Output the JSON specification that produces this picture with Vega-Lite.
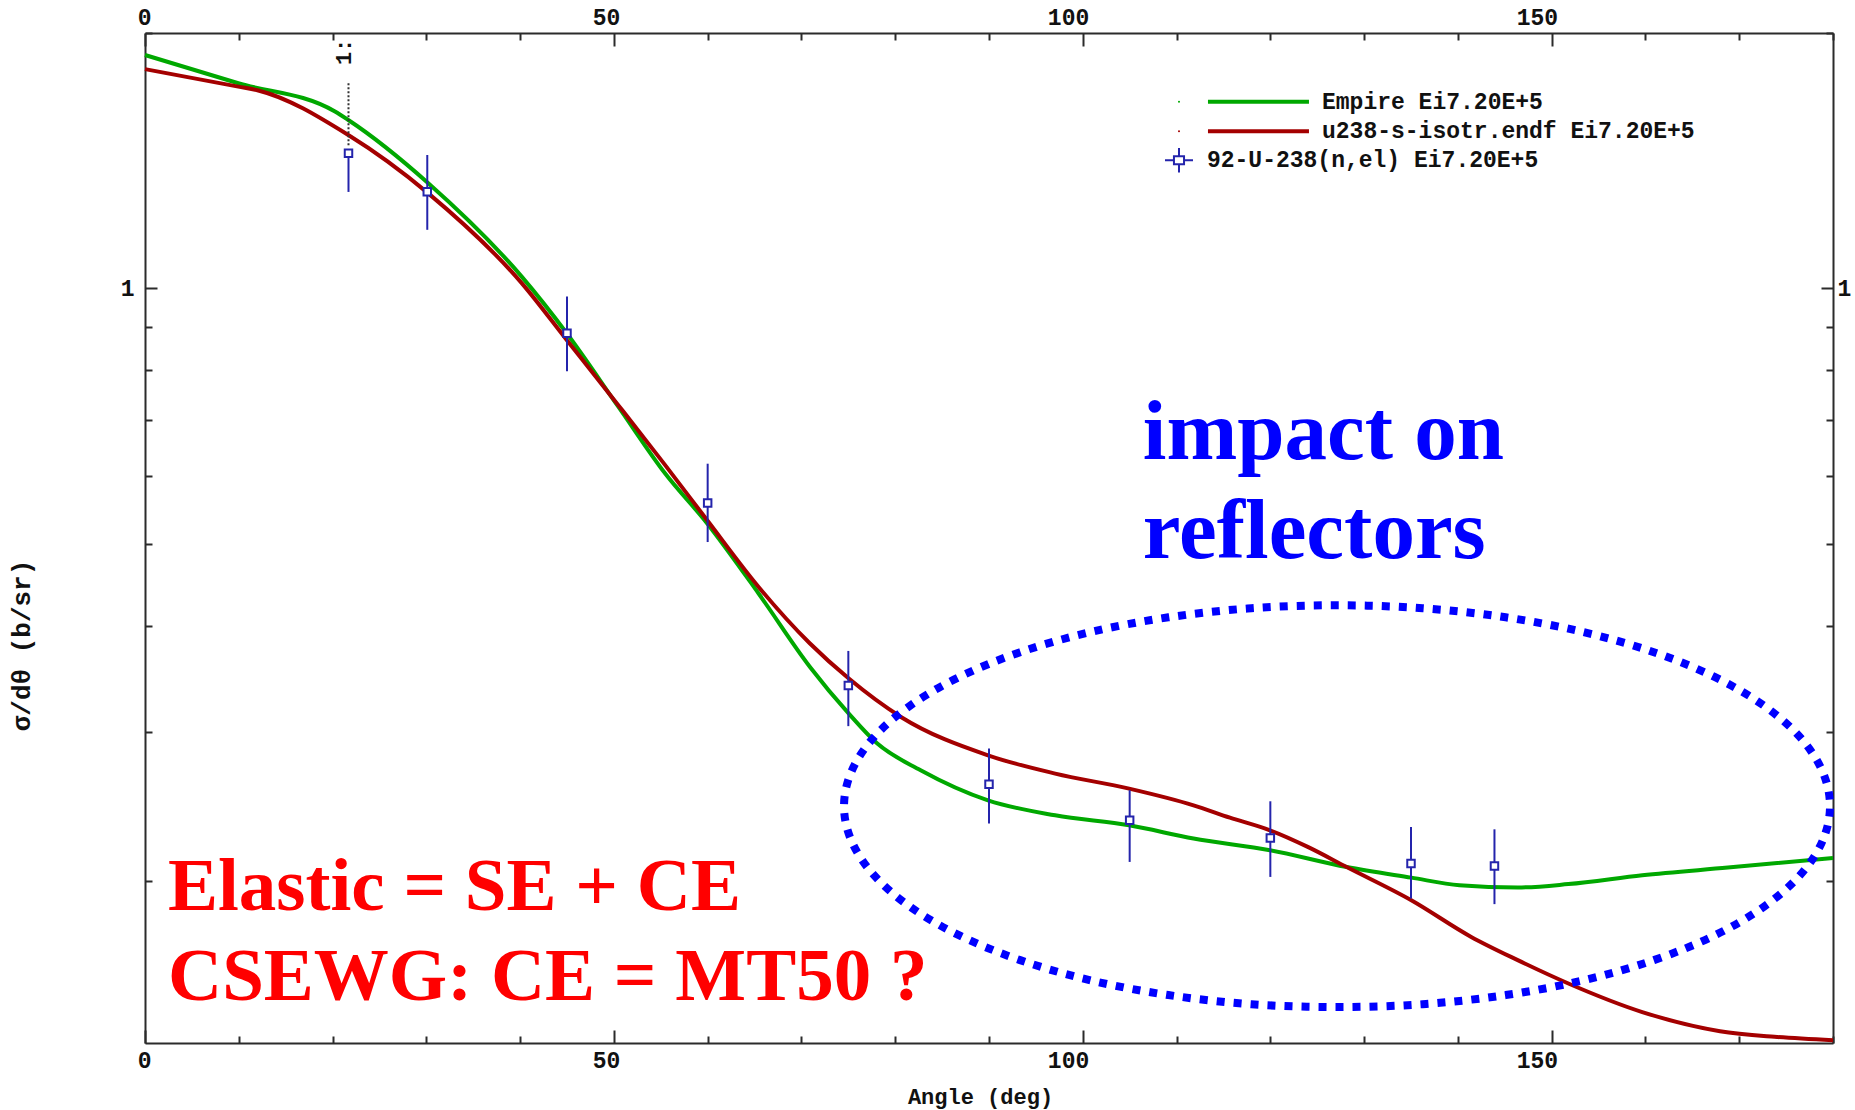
{
  "$schema": "https://vega.github.io/schema/vega-lite/v6.json",
  "width": 1688,
  "height": 1010,
  "autosize": {"type": "none"},
  "padding": {"left": 145, "top": 33, "right": 22, "bottom": 67},
  "background": "white",
  "config": {
    "view": {"stroke": null},
    "axis": {
      "grid": false,
      "domainColor": "#2b2b2b",
      "domainWidth": 2,
      "tickColor": "#2b2b2b",
      "tickWidth": 2,
      "labelFont": "Liberation Mono",
      "labelFontWeight": "bold",
      "labelFontSize": 23,
      "labelColor": "#111111",
      "labelOverlap": false,
      "labelFlush": false,
      "titleFont": "Liberation Mono",
      "titleFontWeight": "bold",
      "titleFontSize": 22,
      "titleColor": "#111111"
    }
  },
  "datasets": {
    "curves": [
      {"series": "Empire Ei7.20E+5", "angle": 0, "value": 1.884},
      {"series": "Empire Ei7.20E+5", "angle": 9.95, "value": 1.745},
      {"series": "Empire Ei7.20E+5", "angle": 20.26, "value": 1.616},
      {"series": "Empire Ei7.20E+5", "angle": 21.68, "value": 1.579},
      {"series": "Empire Ei7.20E+5", "angle": 30.21, "value": 1.33},
      {"series": "Empire Ei7.20E+5", "angle": 40.17, "value": 1.032},
      {"series": "Empire Ei7.20E+5", "angle": 44.97, "value": 0.885},
      {"series": "Empire Ei7.20E+5", "angle": 50.47, "value": 0.725},
      {"series": "Empire Ei7.20E+5", "angle": 55.45, "value": 0.605},
      {"series": "Empire Ei7.20E+5", "angle": 59.95, "value": 0.528},
      {"series": "Empire Ei7.20E+5", "angle": 65.43, "value": 0.4365},
      {"series": "Empire Ei7.20E+5", "angle": 70.91, "value": 0.3576},
      {"series": "Empire Ei7.20E+5", "angle": 75.05, "value": 0.315},
      {"series": "Empire Ei7.20E+5", "angle": 78.09, "value": 0.2904},
      {"series": "Empire Ei7.20E+5", "angle": 82.71, "value": 0.2701},
      {"series": "Empire Ei7.20E+5", "angle": 89.89, "value": 0.2489},
      {"series": "Empire Ei7.20E+5", "angle": 97.06, "value": 0.239},
      {"series": "Empire Ei7.20E+5", "angle": 104.94, "value": 0.2326},
      {"series": "Empire Ei7.20E+5", "angle": 111.81, "value": 0.2244},
      {"series": "Empire Ei7.20E+5", "angle": 119.96, "value": 0.2174},
      {"series": "Empire Ei7.20E+5", "angle": 128.14, "value": 0.2077},
      {"series": "Empire Ei7.20E+5", "angle": 135.03, "value": 0.2018},
      {"series": "Empire Ei7.20E+5", "angle": 140.17, "value": 0.1977},
      {"series": "Empire Ei7.20E+5", "angle": 146.38, "value": 0.1965},
      {"series": "Empire Ei7.20E+5", "angle": 151.78, "value": 0.1983},
      {"series": "Empire Ei7.20E+5", "angle": 159.66, "value": 0.2031},
      {"series": "Empire Ei7.20E+5", "angle": 168.79, "value": 0.2074},
      {"series": "Empire Ei7.20E+5", "angle": 180, "value": 0.2129},
      {"series": "u238-s-isotr.endf Ei7.20E+5", "angle": 0, "value": 1.813},
      {"series": "u238-s-isotr.endf Ei7.20E+5", "angle": 9.95, "value": 1.729},
      {"series": "u238-s-isotr.endf Ei7.20E+5", "angle": 12.08, "value": 1.711},
      {"series": "u238-s-isotr.endf Ei7.20E+5", "angle": 21.68, "value": 1.516},
      {"series": "u238-s-isotr.endf Ei7.20E+5", "angle": 30.21, "value": 1.294},
      {"series": "u238-s-isotr.endf Ei7.20E+5", "angle": 40.17, "value": 1.014},
      {"series": "u238-s-isotr.endf Ei7.20E+5", "angle": 44.97, "value": 0.869},
      {"series": "u238-s-isotr.endf Ei7.20E+5", "angle": 50.47, "value": 0.728},
      {"series": "u238-s-isotr.endf Ei7.20E+5", "angle": 55.45, "value": 0.619},
      {"series": "u238-s-isotr.endf Ei7.20E+5", "angle": 59.95, "value": 0.5326},
      {"series": "u238-s-isotr.endf Ei7.20E+5", "angle": 65.43, "value": 0.4444},
      {"series": "u238-s-isotr.endf Ei7.20E+5", "angle": 70.91, "value": 0.3811},
      {"series": "u238-s-isotr.endf Ei7.20E+5", "angle": 75.05, "value": 0.3465},
      {"series": "u238-s-isotr.endf Ei7.20E+5", "angle": 80.61, "value": 0.3122},
      {"series": "u238-s-isotr.endf Ei7.20E+5", "angle": 89.89, "value": 0.2813},
      {"series": "u238-s-isotr.endf Ei7.20E+5", "angle": 97.06, "value": 0.2677},
      {"series": "u238-s-isotr.endf Ei7.20E+5", "angle": 104.94, "value": 0.257},
      {"series": "u238-s-isotr.endf Ei7.20E+5", "angle": 111.81, "value": 0.2456},
      {"series": "u238-s-isotr.endf Ei7.20E+5", "angle": 115.69, "value": 0.2375},
      {"series": "u238-s-isotr.endf Ei7.20E+5", "angle": 119.96, "value": 0.2295},
      {"series": "u238-s-isotr.endf Ei7.20E+5", "angle": 123.99, "value": 0.2194},
      {"series": "u238-s-isotr.endf Ei7.20E+5", "angle": 128.14, "value": 0.2077},
      {"series": "u238-s-isotr.endf Ei7.20E+5", "angle": 135.03, "value": 0.1898},
      {"series": "u238-s-isotr.endf Ei7.20E+5", "angle": 141.42, "value": 0.1718},
      {"series": "u238-s-isotr.endf Ei7.20E+5", "angle": 146.38, "value": 0.1613},
      {"series": "u238-s-isotr.endf Ei7.20E+5", "angle": 151.78, "value": 0.1514},
      {"series": "u238-s-isotr.endf Ei7.20E+5", "angle": 159.66, "value": 0.1401},
      {"series": "u238-s-isotr.endf Ei7.20E+5", "angle": 167.95, "value": 0.133},
      {"series": "u238-s-isotr.endf Ei7.20E+5", "angle": 173.76, "value": 0.131},
      {"series": "u238-s-isotr.endf Ei7.20E+5", "angle": 180, "value": 0.1298}
    ],
    "exfor": [
      {"angle": 21.7, "value": 1.443, "lo": 1.299, "hi": 1.443},
      {"angle": 30.1, "value": 1.3, "lo": 1.172, "hi": 1.436},
      {"angle": 45.0, "value": 0.885, "lo": 0.798, "hi": 0.978},
      {"angle": 60.0, "value": 0.558, "lo": 0.502, "hi": 0.621},
      {"angle": 75.0, "value": 0.34, "lo": 0.3045, "hi": 0.3735},
      {"angle": 90.0, "value": 0.26, "lo": 0.2337, "hi": 0.2866},
      {"angle": 105.0, "value": 0.2358, "lo": 0.2106, "hi": 0.2559},
      {"angle": 120.0, "value": 0.2248, "lo": 0.2022, "hi": 0.2483},
      {"angle": 135.0, "value": 0.2097, "lo": 0.1907, "hi": 0.2316},
      {"angle": 143.9, "value": 0.2083, "lo": 0.1878, "hi": 0.2301}
    ],
    "ellipse": [
      {"i": 0, "angle": 179.68, "value": 0.245},
      {"i": 1, "angle": 178.88, "value": 0.2229},
      {"i": 2, "angle": 176.51, "value": 0.2033},
      {"i": 3, "angle": 172.64, "value": 0.1865},
      {"i": 4, "angle": 167.38, "value": 0.1725},
      {"i": 5, "angle": 160.9, "value": 0.1613},
      {"i": 6, "angle": 153.4, "value": 0.1527},
      {"i": 7, "angle": 145.09, "value": 0.1467},
      {"i": 8, "angle": 136.24, "value": 0.1431},
      {"i": 9, "angle": 127.11, "value": 0.142},
      {"i": 10, "angle": 117.98, "value": 0.1431},
      {"i": 11, "angle": 109.13, "value": 0.1467},
      {"i": 12, "angle": 100.83, "value": 0.1527},
      {"i": 13, "angle": 93.32, "value": 0.1613},
      {"i": 14, "angle": 86.84, "value": 0.1725},
      {"i": 15, "angle": 81.58, "value": 0.1865},
      {"i": 16, "angle": 77.71, "value": 0.2033},
      {"i": 17, "angle": 75.34, "value": 0.2229},
      {"i": 18, "angle": 74.54, "value": 0.245},
      {"i": 19, "angle": 75.34, "value": 0.2693},
      {"i": 20, "angle": 77.71, "value": 0.2953},
      {"i": 21, "angle": 81.58, "value": 0.3219},
      {"i": 22, "angle": 86.84, "value": 0.348},
      {"i": 23, "angle": 93.32, "value": 0.3722},
      {"i": 24, "angle": 100.83, "value": 0.3931},
      {"i": 25, "angle": 109.13, "value": 0.4092},
      {"i": 26, "angle": 117.98, "value": 0.4194},
      {"i": 27, "angle": 127.11, "value": 0.4228},
      {"i": 28, "angle": 136.24, "value": 0.4194},
      {"i": 29, "angle": 145.09, "value": 0.4092},
      {"i": 30, "angle": 153.4, "value": 0.3931},
      {"i": 31, "angle": 160.9, "value": 0.3722},
      {"i": 32, "angle": 167.38, "value": 0.348},
      {"i": 33, "angle": 172.64, "value": 0.3219},
      {"i": 34, "angle": 176.51, "value": 0.2953},
      {"i": 35, "angle": 178.88, "value": 0.2693}
    ],
    "marker": [
      {"label": "1:", "angle": 21.7, "labelAngle": 21.25, "top": 1.745, "bottom": 1.47, "labelValue": 1.9}
    ],
    "legendKeys": [
      {"series": "Empire Ei7.20E+5", "dot": 110.26, "from": 113.35, "to": 124.12, "value": 1.6591},
      {"series": "u238-s-isotr.endf Ei7.20E+5", "dot": 110.26, "from": 113.35, "to": 124.12, "value": 1.5314}
    ],
    "legendExfor": [
      {"angle": 110.26, "value": 1.4157}
    ],
    "legendLabels": [
      {"label": "Empire Ei7.20E+5", "angle": 125.51, "value": 1.6591},
      {"label": "u238-s-isotr.endf Ei7.20E+5", "angle": 125.51, "value": 1.5314},
      {"label": "92-U-238(n,el) Ei7.20E+5", "angle": 113.24, "value": 1.4157}
    ],
    "blueNotes": [
      {"text": "impact on", "angle": 106.4, "value": 0.6286},
      {"text": "reflectors", "angle": 106.4, "value": 0.481}
    ],
    "redNotes": [
      {"text": "Elastic = SE + CE", "angle": 2.45, "value": 0.1847},
      {"text": "CSEWG: CE = MT50 ?", "angle": 2.45, "value": 0.1447}
    ]
  },
  "resolve": {"axis": {"x": "independent", "y": "independent"}},
  "layer": [
    {
      "data": {"name": "curves"},
      "mark": {"type": "line", "strokeWidth": 4, "interpolate": "monotone"},
      "encoding": {
        "x": {
          "field": "angle", "type": "quantitative",
          "scale": {"domain": [0, 180], "nice": false, "zero": false},
          "axis": {
            "orient": "bottom",
            "values": [0, 10, 20, 30, 40, 50, 60, 70, 80, 90, 100, 110, 120, 130, 140, 150, 160, 170, 180],
            "labelExpr": "datum.value % 50 === 0 ? datum.label : ''",
            "tickSize": {"condition": {"test": "datum.value % 50 === 0", "value": -13}, "value": -7},
            "labelPadding": 19,
            "labelAlign": "right",
            "labelOffset": 6,
            "title": "Angle (deg)",
            "titleX": 835,
            "titleY": 60,
            "titleAlign": "center",
            "titleBaseline": "alphabetic"
          }
        },
        "y": {
          "field": "value", "type": "quantitative",
          "scale": {"type": "log", "domain": [0.1288, 2], "nice": false},
          "axis": {
            "orient": "left",
            "values": [0.2, 0.3, 0.4, 0.5, 0.6, 0.7, 0.8, 0.9, 1, 2],
            "labelExpr": "datum.value === 1 ? '1' : ''",
            "tickSize": {"condition": {"test": "datum.value === 1", "value": -12}, "value": -7},
            "labelPadding": 23,
            "title": "σ/dθ (b/sr)",
            "titleAngle": 270,
            "titleX": -124,
            "titleY": 612,
            "titleAlign": "center",
            "titleBaseline": "middle",
            "titleFontSize": 26
          }
        },
        "color": {
          "field": "series", "type": "nominal",
          "scale": {"domain": ["Empire Ei7.20E+5", "u238-s-isotr.endf Ei7.20E+5"], "range": ["#00a800", "#a40000"]},
          "legend": null
        }
      }
    },
    {
      "data": {"name": "exfor"},
      "mark": {"type": "rule", "color": "#2424ac", "strokeWidth": 2},
      "encoding": {
        "x": {
          "field": "angle", "type": "quantitative",
          "axis": {
            "orient": "top",
            "values": [0, 10, 20, 30, 40, 50, 60, 70, 80, 90, 100, 110, 120, 130, 140, 150, 160, 170, 180],
            "labelExpr": "datum.value % 50 === 0 ? datum.label : ''",
            "tickSize": {"condition": {"test": "datum.value % 50 === 0", "value": -13}, "value": -7},
            "labelPadding": 17,
            "labelAlign": "right",
            "labelOffset": 6,
            "title": null
          }
        },
        "y": {
          "field": "lo", "type": "quantitative",
          "axis": {
            "orient": "right",
            "values": [0.2, 0.3, 0.4, 0.5, 0.6, 0.7, 0.8, 0.9, 1, 2],
            "labelExpr": "datum.value === 1 ? '1' : ''",
            "tickSize": {"condition": {"test": "datum.value === 1", "value": -12}, "value": -7},
            "labelPadding": 16,
            "title": null
          }
        },
        "y2": {"field": "hi"}
      }
    },
    {
      "data": {"name": "marker"},
      "mark": {"type": "rule", "color": "#333333", "strokeWidth": 2, "strokeDash": [2, 2]},
      "encoding": {
        "x": {"field": "angle", "type": "quantitative", "axis": null},
        "y": {"field": "top", "type": "quantitative", "axis": null},
        "y2": {"field": "bottom"}
      }
    },
    {
      "data": {"name": "marker"},
      "mark": {"type": "text", "angle": 270, "align": "center", "baseline": "middle", "font": "Liberation Mono", "fontWeight": "bold", "fontSize": 22, "color": "#111111"},
      "encoding": {
        "x": {"field": "labelAngle", "type": "quantitative", "axis": null},
        "y": {"field": "labelValue", "type": "quantitative", "axis": null},
        "text": {"field": "label"}
      }
    },
    {
      "data": {"name": "exfor"},
      "mark": {"type": "point", "shape": "square", "size": 56, "filled": true, "fill": "white", "stroke": "#2424ac", "strokeWidth": 2, "opacity": 1},
      "encoding": {
        "x": {"field": "angle", "type": "quantitative", "axis": null},
        "y": {"field": "value", "type": "quantitative", "axis": null}
      }
    },
    {
      "data": {"name": "ellipse"},
      "mark": {"type": "line", "color": "#0000ff", "strokeWidth": 8, "strokeDash": [8, 9], "strokeCap": "butt", "interpolate": "cardinal-closed"},
      "encoding": {
        "x": {"field": "angle", "type": "quantitative", "axis": null},
        "y": {"field": "value", "type": "quantitative", "axis": null},
        "order": {"field": "i", "type": "quantitative"}
      }
    },
    {
      "data": {"name": "legendKeys"},
      "mark": {"type": "rule", "strokeWidth": 4},
      "encoding": {
        "x": {"field": "from", "type": "quantitative", "axis": null},
        "x2": {"field": "to"},
        "y": {"field": "value", "type": "quantitative", "axis": null},
        "color": {"field": "series", "type": "nominal", "legend": null}
      }
    },
    {
      "data": {"name": "legendKeys"},
      "mark": {"type": "point", "shape": "circle", "size": 4, "filled": true, "opacity": 1},
      "encoding": {
        "x": {"field": "dot", "type": "quantitative", "axis": null},
        "y": {"field": "value", "type": "quantitative", "axis": null},
        "color": {"field": "series", "type": "nominal", "legend": null}
      }
    },
    {
      "data": {"name": "legendExfor"},
      "mark": {"type": "point", "shape": "M-1,0H-0.36M0.36,0H1M0,-0.87V-0.29M0,0.29V0.87M-0.36,-0.29H0.36V0.29H-0.36Z", "size": 784, "filled": true, "fill": "white", "stroke": "#2424ac", "strokeWidth": 2, "opacity": 1},
      "encoding": {
        "x": {"field": "angle", "type": "quantitative", "axis": null},
        "y": {"field": "value", "type": "quantitative", "axis": null}
      }
    },
    {
      "data": {"name": "legendLabels"},
      "mark": {"type": "text", "align": "left", "baseline": "middle", "font": "Liberation Mono", "fontWeight": "bold", "fontSize": 23, "color": "#111111"},
      "encoding": {
        "x": {"field": "angle", "type": "quantitative", "axis": null},
        "y": {"field": "value", "type": "quantitative", "axis": null},
        "text": {"field": "label"}
      }
    },
    {
      "data": {"name": "blueNotes"},
      "mark": {"type": "text", "align": "left", "baseline": "alphabetic", "font": "Liberation Serif", "fontWeight": "bold", "fontSize": 85, "color": "#0000ff"},
      "encoding": {
        "x": {"field": "angle", "type": "quantitative", "axis": null},
        "y": {"field": "value", "type": "quantitative", "axis": null},
        "text": {"field": "text"}
      }
    },
    {
      "data": {"name": "redNotes"},
      "mark": {"type": "text", "align": "left", "baseline": "alphabetic", "font": "Liberation Serif", "fontWeight": "bold", "fontSize": 75, "color": "#ff0000"},
      "encoding": {
        "x": {"field": "angle", "type": "quantitative", "axis": null},
        "y": {"field": "value", "type": "quantitative", "axis": null},
        "text": {"field": "text"}
      }
    }
  ]
}
